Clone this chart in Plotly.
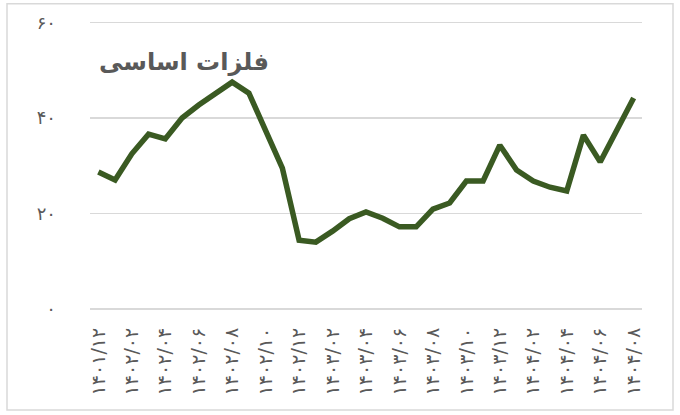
import plotly.graph_objects as go

fa = str.maketrans("0123456789", "۰۱۲۳۴۵۶۷۸۹")

# Monthly categories (Persian calendar), 1401/12 .. 1404/08
years_months = []
y, m = 1401, 12
for _ in range(33):
    years_months.append(f"{y}/{m:02d}")
    m += 1
    if m > 12:
        m = 1
        y += 1
categories = [s.translate(fa) for s in years_months]
tick_labels = categories[::2]

values = [28.7, 27.0, 32.5, 36.6, 35.6, 40.0, 42.7, 45.0, 47.5, 45.2,
          37.3, 29.5, 14.4, 14.0, 16.3, 18.9, 20.3, 19.0, 17.2, 17.2,
          20.9, 22.2, 26.8, 26.8, 34.3, 29.1, 26.8, 25.5, 24.7, 36.4,
          30.8, 37.6, 44.2]

y_ticks = [0, 20, 40, 60]
y_tick_text = [str(v).translate(fa) for v in y_ticks]

title_text = "فلزات اساسی"

fig = go.Figure()
fig.add_trace(go.Scatter(
    x=categories, y=values, mode="lines",
    line=dict(color="#3a5a22", width=5.5),
    hoverinfo="skip", showlegend=False,
))

W, H = 680, 415
ymax = 60.3
L, R = 90, 38
B = H - 309
top_px = 309 - (309 - 22.7) * ymax / 60
T = top_px
pw, ph = W - L - R, H - T - B

def px2paper(px, py):
    return (px - L) / pw, (H - B - py) / ph

x0, y0 = px2paper(7, 410)
x1, y1 = px2paper(673, 4)
fig.add_shape(type="rect", xref="paper", yref="paper", x0=x0, y0=y0, x1=x1, y1=y1,
              line=dict(color="#d9d9d9", width=1.5), layer="below")

tx, ty = px2paper(97, 62)
fig.add_annotation(text="<b>" + title_text + "</b>", xref="paper", yref="paper",
                   x=tx, y=ty, xanchor="left", yanchor="middle", showarrow=False,
                   font=dict(family="DejaVu Sans", size=24, color="#595959"))

fig.update_layout(
    width=W, height=H,
    margin=dict(l=L, r=R, t=T, b=B, autoexpand=False),
    paper_bgcolor="white", plot_bgcolor="white",
    font=dict(family="DejaVu Sans", color="#595959"),
    xaxis=dict(
        type="category", range=[-0.5, len(categories) - 0.5],
        tickmode="array", tickvals=tick_labels, ticktext=tick_labels,
        tickangle=-90, tickfont=dict(size=19, color="#595959"),
        showgrid=False, showline=False, zeroline=False, ticks="",
        ticklabelstandoff=14, automargin=False,
    ),
    yaxis=dict(
        range=[0, ymax], tickmode="array", tickvals=y_ticks, ticktext=y_tick_text,
        tickfont=dict(size=18, color="#595959"),
        showgrid=True, gridcolor="#d9d9d9", gridwidth=1.5,
        zeroline=True, zerolinecolor="#d9d9d9", zerolinewidth=1.5,
        showline=False, ticks="", ticklabelstandoff=33, automargin=False,
    ),
)

fig.write_html("out.html", config={"displayModeBar": False, "staticPlot": True},
               post_script="document.body.style.margin='0';document.body.style.padding='0';")
